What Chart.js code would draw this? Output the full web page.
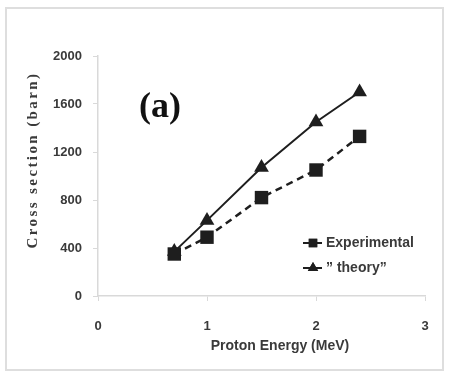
<!DOCTYPE html>
<html>
<head>
<meta charset="utf-8">
<script src="https://cdn.jsdelivr.net/npm/chart.js@4.4.1/dist/chart.umd.min.js"></script>
<style>
  html, body { margin: 0; padding: 0; background: #fff; }
  #wrap { width: 449px; height: 376px; position: relative; }
</style>
</head>
<body>
<div id="wrap"><canvas id="chart"></canvas></div>
<script>
// values
const energies = [0.7, 1, 1.5, 2, 2.4];
const experimental = [350, 490, 820, 1050, 1330];
const theory = [370, 630, 1070, 1450, 1700];
const xTicks = [0, 1, 2, 3];
const yTicks = [0, 400, 800, 1200, 1600, 2000];

const ink = "#1e1e1e";
const textInk = "#3a3a3a";
const axisGray = "#d9d9d9";

const toPoints = (xs, ys) => xs.map((x, i) => ({ x: x, y: ys[i] }));

// frame, panel label, axis titles and the legend box inside the plot
const decorations = {
  id: "decorations",
  beforeDraw(chart) {
    const ctx = chart.ctx;
    ctx.save();
    ctx.fillStyle = "#fff";
    ctx.fillRect(0, 0, chart.width, chart.height);
    ctx.strokeStyle = "#dedede";
    ctx.lineWidth = 2;
    ctx.strokeRect(6, 8, 437, 362);
    ctx.restore();
  },
  afterDraw(chart) {
    const ctx = chart.ctx;
    ctx.save();

    // (a)
    ctx.fillStyle = "#111";
    ctx.font = "bold 36px 'Liberation Serif'";
    ctx.textBaseline = "alphabetic";
    ctx.textAlign = "left";
    ctx.fillText("(a)", 139, 117);

    // x title
    ctx.fillStyle = textInk;
    ctx.font = "bold 14px 'Liberation Sans'";
    ctx.textAlign = "center";
    ctx.textBaseline = "middle";
    ctx.fillText("Proton Energy (MeV)", 280, 346);

    // y title
    ctx.save();
    ctx.translate(33, 160);
    ctx.rotate(-Math.PI / 2);
    ctx.font = "bold 15px 'Liberation Serif'";
    const label = "Cross section (barn)";
    const w = ctx.measureText(label).width;
    ctx.letterSpacing = Math.max(0, (176 - w) / label.length).toFixed(1) + "px";
    ctx.fillText(label, 0, 0);
    ctx.restore();

    // legend
    const rows = [
      { text: "Experimental", y: 243, style: "rect" },
      { text: "\u201D theory\u201D", y: 268, style: "triangle" },
    ];
    ctx.font = "bold 14px 'Liberation Sans'";
    ctx.textAlign = "left";
    rows.forEach(row => {
      ctx.strokeStyle = ink;
      ctx.lineWidth = 2;
      ctx.beginPath();
      ctx.moveTo(303, row.y);
      ctx.lineTo(322, row.y);
      ctx.stroke();
      ctx.fillStyle = ink;
      Chart.helpers.drawPoint(ctx, { pointStyle: row.style, radius: 6, borderWidth: 0 }, 313, row.y);
      ctx.fill();
      ctx.fillStyle = textInk;
      ctx.fillText(row.text, 326, row.y);
    });

    ctx.restore();
  }
};

new Chart(document.getElementById("chart"), {
  type: "scatter",
  data: {
    datasets: [
      {
        label: "Experimental",
        data: toPoints(energies, experimental),
        showLine: true,
        borderColor: ink,
        backgroundColor: ink,
        borderWidth: 2.5,
        borderDash: [7, 5],
        pointStyle: "rect",
        pointRadius: 9.5,
        pointBorderWidth: 0,
      },
      {
        label: "\u201D theory\u201D",
        data: toPoints(energies, theory),
        showLine: true,
        borderColor: ink,
        backgroundColor: ink,
        borderWidth: 2,
        pointStyle: "triangle",
        pointRadius: 8.5,
        pointBorderWidth: 0,
      },
    ],
  },
  options: {
    responsive: true,
    maintainAspectRatio: false,
    animation: false,
    layout: { padding: { left: 0, right: 24, top: 56, bottom: 0 } },
    plugins: {
      legend: { display: false },
      tooltip: { enabled: false },
    },
    scales: {
      x: {
        type: "linear",
        min: 0,
        max: 3,
        afterBuildTicks: (scale) => { scale.ticks = xTicks.map(v => ({ value: v })); },
        afterFit: (scale) => { scale.height = 80; },
        grid: { drawOnChartArea: false, drawTicks: true, tickLength: 5, color: axisGray },
        border: { color: axisGray, width: 1.5 },
        ticks: {
          color: textInk,
          padding: 18,
          maxRotation: 0,
          callback: (v) => String(v),
          font: { family: "'Liberation Sans'", size: 13, weight: "bold" },
        },
      },
      y: {
        type: "linear",
        min: 0,
        max: 2000,
        afterBuildTicks: (scale) => { scale.ticks = yTicks.map(v => ({ value: v })); },
        afterFit: (scale) => { scale.width = 98; },
        grid: { drawOnChartArea: false, drawTicks: true, tickLength: 5, color: axisGray },
        border: { color: axisGray, width: 1.5 },
        ticks: {
          color: textInk,
          padding: 11,
          callback: (v) => String(v),
          font: { family: "'Liberation Sans'", size: 13, weight: "bold" },
        },
      },
    },
  },
  plugins: [decorations],
});
</script>
</body>
</html>
